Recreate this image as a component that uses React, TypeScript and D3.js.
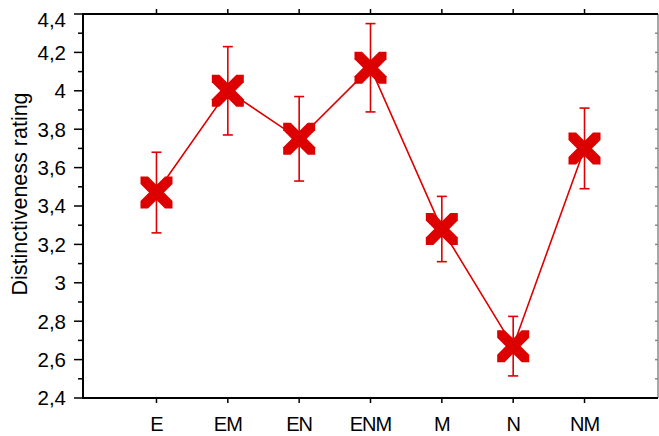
import React from "react";
import * as d3 from "d3";

// Mean distinctiveness rating per condition, with the half-width of each error bar
const categories = ["E", "EM", "EN", "ENM", "M", "N", "NM"];
const means = [3.47, 4.0, 3.75, 4.12, 3.28, 2.67, 3.7];
const errors = [0.21, 0.23, 0.22, 0.23, 0.17, 0.155, 0.21];

const yMajorTicks = [2.4, 2.6, 2.8, 3.0, 3.2, 3.4, 3.6, 3.8, 4.0, 4.2, 4.4];
const yMinorTicks = [2.5, 2.7, 2.9, 3.1, 3.3, 3.5, 3.7, 3.9, 4.1, 4.3];
const yTitle = "Distinctiveness rating";

const W = 659;
const H = 436;
const left = 83;
const right = 658;
const top = 14;
const bottom = 398;
const RED = "#dd0000";
const FONT = "Liberation Sans, Arial, sans-serif";

const commaLocale = d3.formatLocale({
  decimal: ",",
  thousands: ".",
  grouping: [3],
  currency: ["", ""],
});
const fmt = commaLocale.format("~g");

// One arm of a thick X marker, clipped to a square box
function armPath(h: number, w: number, flip: boolean): string {
  const pts = [
    [-h, -h],
    [-h + w, -h],
    [h, h - w],
    [h, h],
    [h - w, h],
    [-h, -h + w],
  ].map(([px, py]) => (flip ? [-px, py] : [px, py]));
  return "M" + pts.map((p) => p.join(",")).join("L") + "Z";
}

export default function App() {
  const x = d3.scalePoint<string>().domain(categories).range([left, right]).padding(1.03);
  const y = d3.scaleLinear().domain([2.4, 4.4]).range([bottom, top]);

  const points = categories.map((c, i) => ({
    c,
    x: x(c) as number,
    y: y(means[i]),
    lo: y(means[i] - errors[i]),
    hi: y(means[i] + errors[i]),
  }));

  const line = d3
    .line<{ x: number; y: number }>()
    .x((d) => d.x)
    .y((d) => d.y);

  const armA = armPath(16, 7.5, false);
  const armB = armPath(16, 7.5, true);
  const allTenths = [...yMajorTicks, ...yMinorTicks];

  return (
    <svg
      width={W}
      height={H}
      style={{ position: "absolute", left: 0, top: 0, background: "#fff" }}
      fontFamily={FONT}
    >
      <rect x={0} y={0} width={W} height={H} fill="#fff" />

      {/* right frame with inward minor ticks */}
      <line x1={right} x2={right} y1={top} y2={bottom} stroke="#888" strokeWidth={1.5} />
      {allTenths.map((v) => (
        <line key={"r" + v} x1={right - 3} x2={right} y1={y(v)} y2={y(v)} stroke="#888" strokeWidth={1.5} />
      ))}

      {/* top frame with category ticks */}
      <line x1={left} x2={right} y1={top} y2={top} stroke="#000" strokeWidth={2} />
      {points.map((p) => (
        <line key={"t" + p.c} x1={p.x} x2={p.x} y1={top - 5} y2={top} stroke="#000" strokeWidth={1.5} />
      ))}

      {/* bottom axis */}
      <line x1={left} x2={right} y1={bottom} y2={bottom} stroke="#000" strokeWidth={2} />
      {points.map((p) => (
        <g key={"b" + p.c}>
          <line x1={p.x} x2={p.x} y1={bottom} y2={bottom + 5} stroke="#000" strokeWidth={1.5} />
          <text x={p.x} y={431} textAnchor="middle" fontSize={20} letterSpacing={-1} fill="#000">
            {p.c}
          </text>
        </g>
      ))}

      {/* left axis */}
      <line x1={left} x2={left} y1={top - 1} y2={bottom + 1} stroke="#000" strokeWidth={2} />
      {yMinorTicks.map((v) => (
        <line key={"m" + v} x1={left - 5} x2={left} y1={y(v)} y2={y(v)} stroke="#000" strokeWidth={1.5} />
      ))}
      {yMajorTicks.map((v, i) => (
        <g key={"M" + v}>
          <line x1={left - 9} x2={left} y1={y(v)} y2={y(v)} stroke="#000" strokeWidth={1.5} />
          <text
            x={66}
            y={y(v) + (i === yMajorTicks.length - 1 ? 6 : 0)}
            dy="0.36em"
            textAnchor="end"
            fontSize={20.5}
            fill="#000"
          >
            {fmt(v)}
          </text>
        </g>
      ))}

      <text
        transform={`translate(27,194) rotate(-90)`}
        textAnchor="middle"
        fontSize={21.5}
        fill="#000"
      >
        {yTitle}
      </text>

      {/* series */}
      <path d={line(points) ?? ""} fill="none" stroke={RED} strokeWidth={1.6} />
      {points.map((p) => (
        <g key={"e" + p.c} stroke={RED} strokeWidth={1.6}>
          <line x1={p.x} x2={p.x} y1={p.hi} y2={p.lo} />
          <line x1={p.x - 5} x2={p.x + 5} y1={p.hi} y2={p.hi} />
          <line x1={p.x - 5} x2={p.x + 5} y1={p.lo} y2={p.lo} />
        </g>
      ))}
      {points.map((p) => (
        <g key={"x" + p.c} transform={`translate(${p.x},${p.y})`} fill={RED}>
          <path d={armA} />
          <path d={armB} />
        </g>
      ))}
    </svg>
  );
}
